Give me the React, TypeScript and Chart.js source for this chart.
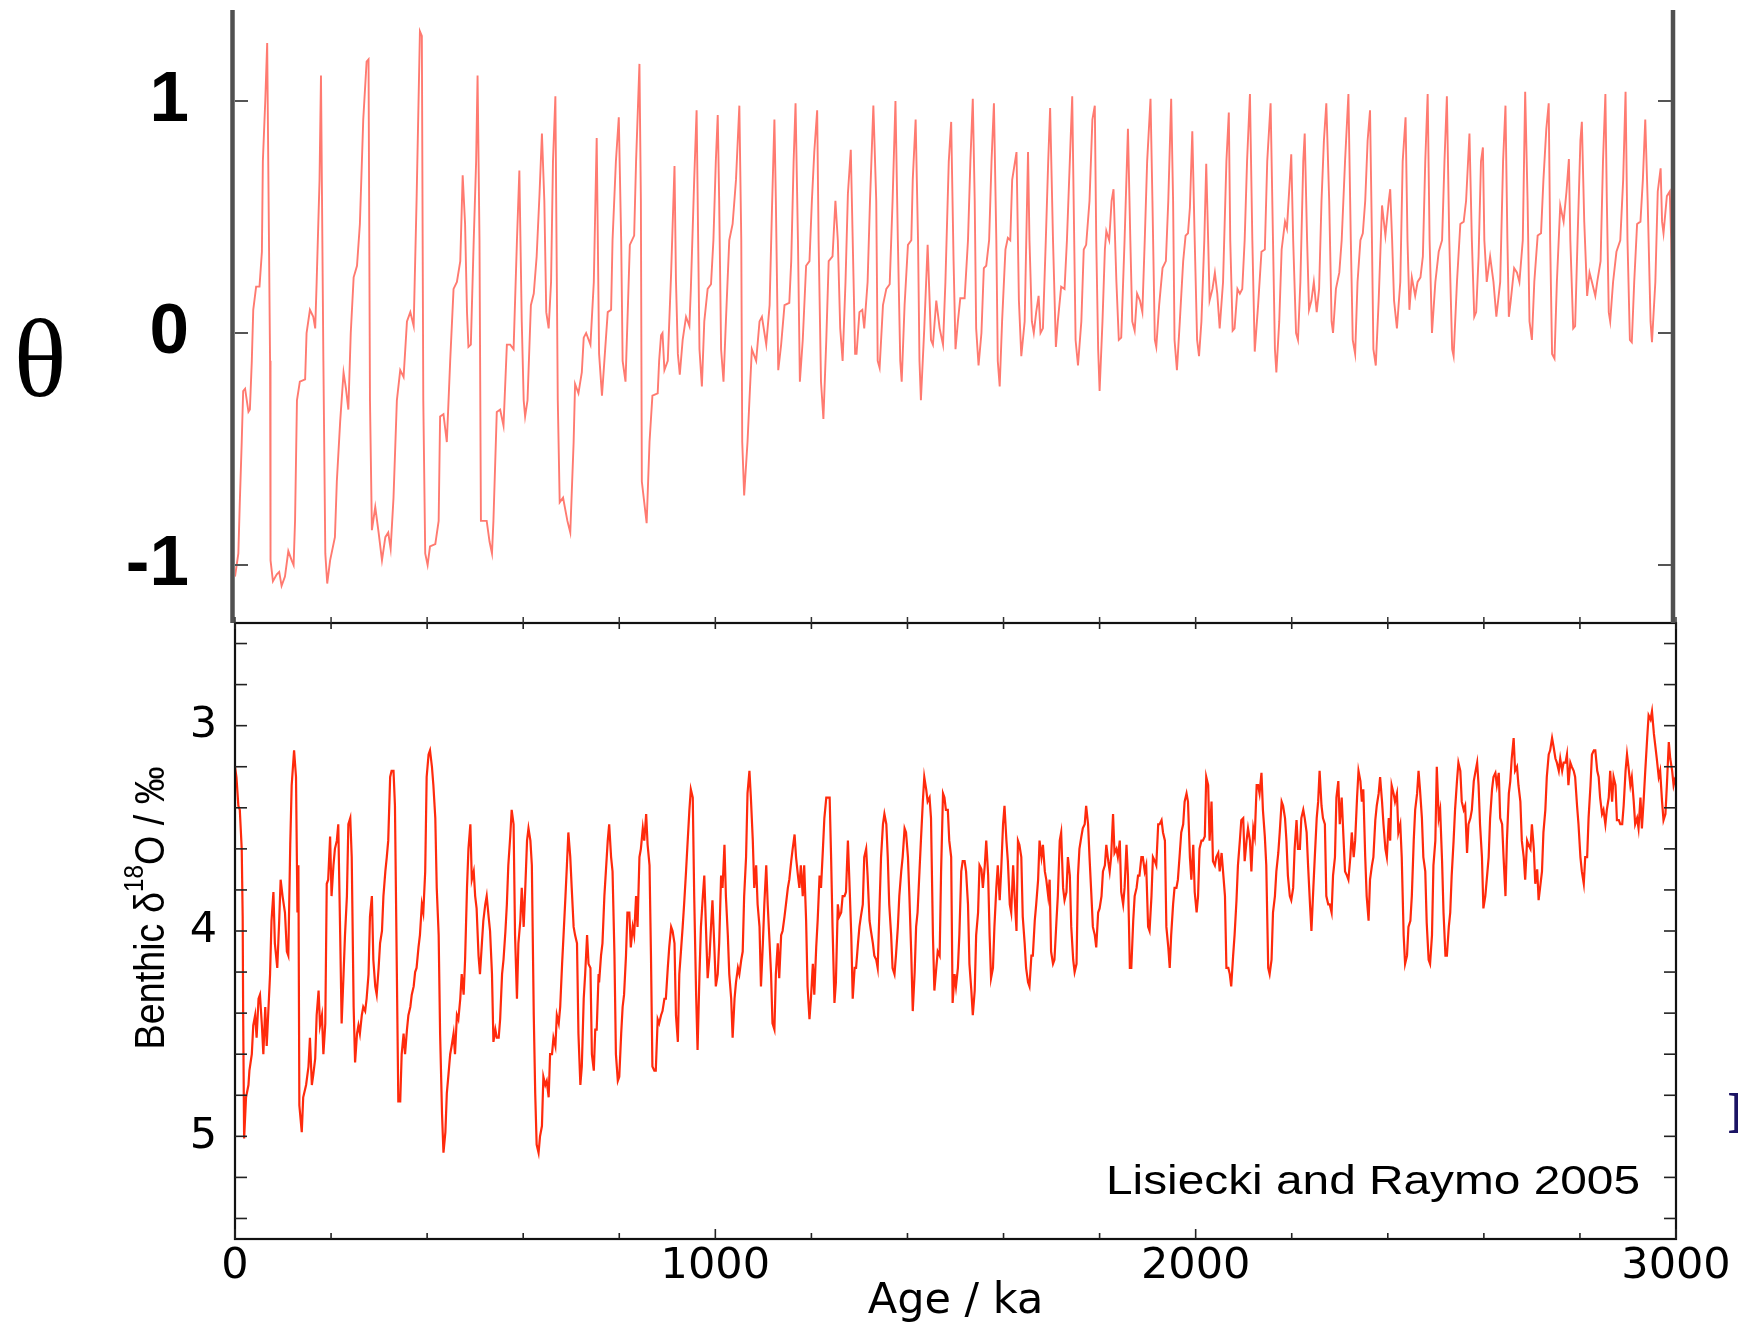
import React, { useEffect, useRef } from "react";
import { Chart, registerables } from "chart.js";

Chart.register(...registerables);

// ---------------- data ----------------
const AGE_TICKS = [0, 200, 400, 600, 800, 1000, 1200, 1400, 1600, 1800, 2000, 2200, 2400, 2600, 2800, 3000];
const AGE_LABELS = [0, 1000, 2000, 3000];
const THETA_TICKS = [-1, 0, 1];
const D18O_TICKS = [2.6, 2.8, 3.0, 3.2, 3.4, 3.6, 3.8, 4.0, 4.2, 4.4, 4.6, 4.8, 5.0, 5.2, 5.4];
const D18O_LABELS = [3, 4, 5];

const X_TITLE = "Age / ka";
const Y_TITLE_TOP = "θ";
const CREDIT = "Lisiecki and Raymo 2005";

// model output θ (age ka, value)
const THETA: [number, number][] = [
  [0,-1.05],[7,-0.95],[10,-0.73],[14,-0.47],[17,-0.25],[21,-0.24],[28,-0.34],[31,-0.33],[35,-0.12],[38,0.10],[44,0.20],[51,0.20],[56,0.35],[58,0.74],[63,1.00],[67,1.25],[73,-0.12],[74,-0.98],[79,-1.07],[87,-1.04],[92,-1.03],[97,-1.09],[104,-1.05],[111,-0.94],[118,-0.98],[122,-1.00],[125,-0.81],[129,-0.29],[135,-0.21],[146,-0.20],[149,0.00],[156,0.10],[163,0.07],[167,0.02],[170,0.22],[176,0.66],[179,1.11],[184,-0.12],[188,-0.95],[192,-1.08],[198,-0.98],[208,-0.88],[212,-0.64],[219,-0.38],[226,-0.17],[231,-0.24],[236,-0.33],[241,0.00],[247,0.24],[254,0.29],[260,0.47],[267,0.92],[274,1.17],[278,1.18],[281,-0.29],[285,-0.85],[292,-0.75],[299,-0.86],[306,-0.98],[313,-0.88],[319,-0.86],[324,-0.93],[330,-0.71],[337,-0.29],[344,-0.16],[351,-0.19],[358,0.05],[365,0.09],[372,0.03],[378,0.57],[385,1.30],[389,1.28],[392,-0.29],[396,-0.95],[401,-1.00],[406,-0.92],[417,-0.91],[424,-0.81],[427,-0.36],[434,-0.35],[441,-0.47],[448,-0.12],[455,0.19],[462,0.22],[469,0.31],[474,0.68],[479,0.47],[483,0.09],[486,-0.06],[491,-0.05],[497,0.40],[502,0.74],[505,1.11],[509,0.40],[512,-0.81],[524,-0.81],[530,-0.90],[535,-0.95],[538,-0.81],[545,-0.34],[552,-0.33],[559,-0.40],[566,-0.05],[573,-0.05],[580,-0.07],[587,0.40],[592,0.70],[597,0.05],[601,-0.29],[604,-0.36],[609,-0.29],[616,0.12],[622,0.17],[628,0.33],[634,0.60],[639,0.86],[644,0.57],[648,0.09],[653,0.02],[658,0.22],[662,0.74],[667,1.02],[672,-0.29],[676,-0.73],[683,-0.71],[692,-0.81],[698,-0.86],[705,-0.47],[708,-0.22],[715,-0.26],[722,-0.17],[726,-0.02],[731,0.00],[740,-0.05],[747,0.22],[753,0.84],[758,-0.09],[764,-0.27],[769,-0.12],[776,0.09],[783,0.10],[786,0.40],[793,0.74],[799,0.93],[804,0.40],[807,-0.12],[813,-0.21],[817,0.05],[822,0.38],[831,0.42],[835,0.74],[842,1.16],[845,0.57],[847,-0.64],[852,-0.73],[857,-0.82],[863,-0.47],[869,-0.27],[880,-0.26],[883,-0.12],[887,-0.01],[890,0.00],[894,-0.16],[901,-0.12],[908,0.26],[915,0.72],[918,0.23],[922,-0.09],[926,-0.18],[932,-0.03],[939,0.07],[946,0.03],[949,0.19],[956,0.66],[961,0.96],[967,-0.07],[972,-0.23],[977,0.05],[984,0.19],[991,0.21],[996,0.40],[1001,0.74],[1005,0.94],[1008,0.57],[1012,-0.07],[1017,-0.21],[1022,0.05],[1029,0.40],[1036,0.47],[1043,0.66],[1050,0.98],[1054,0.40],[1056,-0.47],[1060,-0.70],[1067,-0.47],[1071,-0.29],[1076,-0.07],[1085,-0.12],[1092,0.05],[1097,0.07],[1106,-0.05],[1113,0.12],[1118,0.54],[1123,0.92],[1126,0.57],[1131,-0.16],[1137,-0.05],[1144,0.12],[1154,0.13],[1158,0.31],[1163,0.74],[1167,0.99],[1172,0.40],[1176,-0.21],[1182,-0.03],[1189,0.29],[1196,0.31],[1201,0.57],[1206,0.78],[1212,0.96],[1215,0.40],[1220,-0.21],[1225,-0.37],[1231,-0.03],[1236,0.31],[1244,0.33],[1250,0.57],[1255,0.40],[1260,0.02],[1265,-0.12],[1271,0.22],[1276,0.60],[1282,0.79],[1286,0.40],[1291,-0.09],[1294,-0.09],[1300,0.09],[1306,0.10],[1310,0.02],[1317,0.22],[1322,0.57],[1329,0.98],[1335,0.57],[1338,-0.12],[1342,-0.15],[1349,0.12],[1356,0.19],[1363,0.21],[1369,0.57],[1375,1.00],[1380,0.40],[1385,-0.12],[1388,-0.21],[1394,0.12],[1401,0.38],[1408,0.40],[1411,0.66],[1417,0.92],[1422,0.40],[1425,-0.12],[1428,-0.29],[1435,0.02],[1442,0.38],[1449,-0.03],[1453,-0.05],[1460,0.14],[1467,0.02],[1474,-0.05],[1479,0.22],[1486,0.74],[1491,0.91],[1496,0.31],[1500,-0.07],[1505,0.05],[1510,0.15],[1519,0.15],[1526,0.40],[1531,0.74],[1536,1.01],[1540,0.57],[1543,0.02],[1548,-0.14],[1554,0.00],[1559,0.28],[1564,0.29],[1570,0.40],[1575,0.74],[1580,0.99],[1585,0.40],[1588,-0.12],[1592,-0.23],[1597,0.05],[1604,0.36],[1609,0.41],[1614,0.40],[1618,0.66],[1627,0.78],[1632,0.14],[1637,-0.10],[1644,0.05],[1651,0.78],[1654,0.40],[1659,0.05],[1663,0.00],[1668,0.09],[1673,0.16],[1677,0.00],[1682,0.02],[1688,0.40],[1693,0.74],[1697,0.97],[1703,0.40],[1709,-0.06],[1713,0.05],[1720,0.20],[1727,0.19],[1732,0.40],[1738,0.74],[1743,1.02],[1746,0.57],[1750,-0.03],[1755,-0.14],[1762,0.05],[1767,0.36],[1772,0.38],[1779,0.57],[1785,0.92],[1790,0.98],[1793,0.40],[1797,-0.07],[1800,-0.25],[1806,0.05],[1811,0.36],[1814,0.44],[1820,0.40],[1825,0.57],[1829,0.62],[1835,0.22],[1840,-0.03],[1845,-0.02],[1852,0.40],[1859,0.88],[1864,0.40],[1868,0.05],[1873,0.01],[1878,0.17],[1884,0.14],[1889,0.09],[1894,0.40],[1899,0.74],[1906,1.01],[1910,0.57],[1915,-0.03],[1918,-0.06],[1924,0.12],[1931,0.28],[1938,0.31],[1943,0.57],[1949,1.01],[1953,0.57],[1956,-0.03],[1961,-0.16],[1967,0.05],[1974,0.31],[1979,0.42],[1984,0.43],[1988,0.54],[1993,0.87],[1998,0.40],[2003,-0.03],[2007,-0.10],[2012,0.05],[2018,0.40],[2022,0.73],[2026,0.40],[2029,0.14],[2035,0.19],[2040,0.26],[2045,0.17],[2050,0.02],[2057,0.22],[2064,0.74],[2069,0.95],[2072,0.40],[2077,0.01],[2081,0.02],[2087,0.19],[2092,0.17],[2097,0.19],[2102,0.40],[2107,0.74],[2113,1.03],[2118,0.40],[2123,-0.08],[2130,0.12],[2137,0.35],[2144,0.36],[2149,0.74],[2156,0.99],[2161,0.40],[2165,-0.07],[2168,-0.17],[2174,0.05],[2179,0.36],[2186,0.48],[2190,0.45],[2196,0.66],[2199,0.77],[2203,0.40],[2209,0.00],[2213,-0.03],[2218,0.22],[2224,0.74],[2227,0.86],[2232,0.40],[2236,0.10],[2241,0.14],[2246,0.22],[2252,0.09],[2257,0.19],[2262,0.57],[2267,0.83],[2272,0.99],[2278,0.57],[2283,0.05],[2286,0.00],[2292,0.19],[2299,0.26],[2304,0.40],[2311,0.74],[2318,1.03],[2323,0.40],[2327,-0.03],[2332,-0.09],[2337,0.22],[2343,0.40],[2348,0.43],[2353,0.57],[2358,0.83],[2363,0.96],[2367,0.40],[2370,-0.07],[2375,-0.14],[2381,0.14],[2388,0.55],[2395,0.42],[2402,0.57],[2405,0.62],[2409,0.40],[2413,0.14],[2419,0.02],[2426,0.22],[2431,0.74],[2437,0.93],[2441,0.40],[2445,0.10],[2450,0.24],[2457,0.16],[2462,0.22],[2468,0.24],[2473,0.33],[2478,0.74],[2483,1.03],[2487,0.40],[2492,0.00],[2499,0.22],[2506,0.35],[2513,0.40],[2518,0.74],[2523,1.02],[2528,0.40],[2534,-0.07],[2537,-0.10],[2544,0.22],[2551,0.47],[2558,0.48],[2563,0.57],[2570,0.86],[2575,0.40],[2580,0.07],[2584,0.09],[2589,0.33],[2594,0.74],[2598,0.80],[2601,0.40],[2606,0.22],[2613,0.33],[2620,0.22],[2626,0.07],[2634,0.22],[2640,0.74],[2645,0.98],[2649,0.40],[2652,0.07],[2656,0.14],[2663,0.28],[2669,0.26],[2674,0.22],[2681,0.40],[2686,1.04],[2691,0.57],[2695,0.05],[2700,-0.03],[2705,0.22],[2712,0.42],[2719,0.43],[2724,0.66],[2730,0.88],[2735,0.99],[2738,0.40],[2742,-0.09],[2747,-0.11],[2752,0.22],[2759,0.55],[2766,0.48],[2772,0.61],[2777,0.75],[2780,0.40],[2786,0.02],[2790,0.03],[2795,0.40],[2801,0.83],[2804,0.91],[2809,0.48],[2815,0.16],[2820,0.26],[2825,0.22],[2832,0.16],[2836,0.22],[2843,0.31],[2848,0.74],[2853,1.03],[2856,0.57],[2860,0.09],[2863,0.05],[2869,0.22],[2876,0.35],[2884,0.40],[2890,0.66],[2895,1.04],[2899,0.40],[2904,-0.03],[2908,-0.04],[2913,0.22],[2919,0.47],[2926,0.48],[2931,0.66],[2936,0.92],[2941,0.57],[2947,0.05],[2950,-0.04],[2957,0.22],[2962,0.61],[2968,0.71],[2971,0.48],[2974,0.43],[2981,0.59],[2987,0.61],[2990,0.40],[2992,0.10]
];

// LR04 benthic δ18O stack (age ka, ‰)
const D18O: [number, number][] = [
  [0,3.20],[3,3.25],[7,3.39],[10,3.41],[14,3.60],[16,3.93],[17,4.41],[19,5.01],[23,4.81],[28,4.75],[30,4.68],[35,4.60],[38,4.46],[42,4.41],[45,4.52],[49,4.33],[52,4.31],[56,4.46],[59,4.60],[63,4.37],[66,4.56],[69,4.41],[73,4.21],[76,3.95],[80,3.81],[83,4.06],[88,4.18],[92,3.95],[95,3.75],[99,3.83],[104,3.91],[108,4.10],[111,4.12],[115,3.58],[118,3.29],[123,3.12],[127,3.25],[130,3.91],[132,3.68],[134,4.85],[139,4.98],[142,4.81],[148,4.75],[153,4.66],[156,4.52],[160,4.75],[163,4.70],[167,4.62],[170,4.41],[174,4.29],[177,4.46],[181,4.41],[184,4.60],[188,4.45],[191,3.77],[194,3.75],[198,3.54],[201,3.83],[205,3.68],[208,3.60],[212,3.56],[215,3.48],[219,4.02],[222,4.45],[226,4.21],[229,4.02],[233,3.83],[236,3.48],[240,3.45],[243,3.64],[247,4.37],[250,4.64],[254,4.50],[257,4.46],[260,4.50],[264,4.41],[267,4.37],[271,4.39],[274,4.33],[278,4.21],[281,3.93],[285,3.83],[288,4.14],[292,4.27],[295,4.31],[299,4.18],[302,4.06],[306,4.00],[309,3.83],[313,3.71],[316,3.64],[319,3.56],[323,3.25],[326,3.22],[330,3.22],[333,3.39],[337,4.21],[340,4.83],[344,4.83],[347,4.60],[351,4.50],[354,4.60],[358,4.48],[361,4.41],[365,4.37],[368,4.31],[372,4.27],[375,4.20],[378,4.18],[382,4.08],[385,4.02],[389,3.87],[392,3.91],[396,3.71],[399,3.25],[403,3.14],[406,3.12],[410,3.20],[413,3.29],[417,3.45],[420,3.79],[424,4.02],[427,4.50],[431,4.89],[434,5.08],[438,4.98],[441,4.79],[444,4.71],[448,4.60],[451,4.56],[455,4.50],[458,4.60],[462,4.41],[465,4.43],[469,4.33],[472,4.21],[476,4.31],[479,4.14],[483,3.79],[486,3.60],[490,3.48],[493,3.75],[497,3.71],[500,3.83],[503,3.89],[507,4.12],[510,4.21],[514,4.06],[517,3.95],[521,3.87],[524,3.83],[528,3.93],[531,4.00],[535,4.21],[538,4.54],[542,4.48],[545,4.52],[549,4.52],[552,4.43],[556,4.21],[559,4.14],[563,4.00],[566,3.87],[569,3.68],[573,3.54],[576,3.41],[580,3.48],[583,4.02],[587,4.33],[590,4.06],[594,3.95],[597,3.79],[601,3.98],[604,3.81],[608,3.56],[611,3.50],[615,3.56],[618,3.68],[622,4.41],[625,4.79],[628,5.04],[632,5.08],[635,5.00],[639,4.95],[642,4.71],[646,4.75],[649,4.73],[653,4.81],[656,4.60],[660,4.60],[663,4.52],[667,4.56],[670,4.41],[674,4.45],[677,4.37],[681,4.16],[684,4.02],[688,3.83],[691,3.68],[694,3.52],[698,3.64],[701,3.79],[705,3.98],[708,4.02],[712,4.06],[715,4.50],[719,4.75],[722,4.66],[726,4.33],[729,4.21],[733,4.02],[736,4.16],[740,4.18],[743,4.60],[747,4.68],[750,4.48],[753,4.48],[757,4.21],
  [758,4.25],[762,4.12],[765,4.06],[769,3.83],[776,3.56],[779,3.48],[783,3.64],[786,3.71],[790,4.12],[793,4.60],[797,4.73],[800,4.71],[804,4.50],[807,4.37],[810,4.31],[814,4.12],[817,3.91],[821,3.91],[824,4.08],[828,3.98],[831,4.02],[835,3.83],[838,3.98],[842,3.64],[845,3.60],[849,3.50],[852,3.56],[856,3.43],[859,3.58],[863,3.68],[866,4.12],[869,4.66],[873,4.68],[876,4.68],[880,4.43],[883,4.45],[887,4.41],[890,4.39],[894,4.33],[897,4.33],[901,4.18],[904,4.08],[908,3.98],[911,4.00],[915,4.06],[918,4.41],[922,4.54],[925,4.21],[929,4.08],[932,3.98],[935,3.87],[939,3.71],[942,3.58],[946,3.41],[949,3.31],[953,3.35],[956,3.83],[960,4.31],[963,4.58],[967,4.21],[970,3.98],[974,3.83],[977,3.73],[981,4.02],[984,4.23],[988,4.12],[991,3.98],[994,3.85],[998,4.08],[1001,4.27],[1005,4.21],[1008,4.06],[1012,3.73],[1015,3.79],[1019,3.58],[1022,3.83],[1026,4.02],[1029,4.21],[1033,4.33],[1036,4.52],[1040,4.33],[1043,4.25],[1047,4.18],[1050,4.21],[1054,4.14],[1057,4.10],[1060,3.83],[1064,3.64],[1067,3.33],[1071,3.22],[1074,3.35],[1078,3.56],[1081,3.79],[1085,3.68],[1088,3.87],[1092,3.98],[1095,4.27],[1099,4.06],[1102,3.87],[1106,3.68],[1109,3.87],[1113,4.06],[1116,4.21],[1119,4.45],[1123,4.48],[1126,4.21],[1130,4.06],[1133,4.23],[1137,4.02],[1140,4.00],[1144,3.93],[1147,3.87],[1151,3.79],[1154,3.75],[1158,3.66],[1161,3.60],[1165,3.53],[1168,3.64],[1172,3.73],[1175,3.79],[1178,3.68],[1182,3.83],[1185,3.68],[1189,3.95],[1192,4.27],[1196,4.43],[1199,4.33],[1203,4.16],[1206,4.31],[1210,4.08],[1213,3.95],[1217,3.73],[1220,3.79],[1224,3.60],[1227,3.45],[1231,3.35],[1234,3.35],[1238,3.35],[1241,3.64],[1244,3.98],[1248,4.35],[1251,4.25],[1255,3.87],[1258,3.93],[1262,3.91],[1265,3.83],[1269,3.83],[1272,3.81],[1276,3.56],[1279,3.75],[1283,4.02],[1286,4.33],[1290,4.18],[1293,4.18],[1297,4.06],[1300,3.98],[1303,3.93],[1307,3.87],[1310,3.64],[1314,3.60],[1317,3.73],[1321,3.95],[1324,4.00],[1328,4.06],[1331,4.12],[1335,4.14],[1338,4.18],[1342,3.87],[1345,3.64],[1349,3.48],[1352,3.43],[1356,3.48],[1359,3.64],[1362,3.87],[1366,4.02],[1369,4.18],[1373,4.21],[1376,4.12],[1380,3.98],[1383,3.83],[1387,3.71],[1390,3.64],[1394,3.50],[1397,3.52],[1401,3.64],[1404,3.83],[1408,4.12],[1411,4.39],[1415,4.20],[1418,3.98],[1421,3.91],[1425,3.71],[1428,3.56],[1432,3.37],[1435,3.25],[1439,3.31],[1442,3.37],[1446,3.35],[1449,3.45],[1453,4.02],[1456,4.29],[1460,4.18],[1463,4.10],[1467,4.12],[1470,3.71],[1474,3.33],[1477,3.35],[1480,3.41],[1484,3.41],[1487,3.56],[1491,3.64],[1494,4.35],[1498,4.21],[1501,4.27],[1505,4.18],[1508,4.02],[1512,3.71],[1515,3.66],[1519,3.66],[1522,3.71],[1526,3.87],[1529,4.16],
  [1533,4.29],[1536,4.41],[1540,4.29],[1543,4.02],[1547,3.91],[1550,3.68],[1554,3.70],[1557,3.79],[1561,3.68],[1564,3.56],[1568,3.73],[1571,4.02],[1574,4.23],[1578,4.18],[1581,3.98],[1585,3.79],[1588,3.68],[1592,3.85],[1595,3.71],[1599,3.48],[1602,3.39],[1606,3.56],[1609,3.66],[1613,3.87],[1616,3.91],[1620,3.68],[1623,3.83],[1627,4.00],[1630,3.56],[1633,3.58],[1637,3.64],[1640,3.93],[1644,4.06],[1647,4.18],[1651,4.25],[1654,4.27],[1658,4.12],[1661,4.12],[1665,3.95],[1668,3.87],[1672,3.75],[1675,3.56],[1679,3.64],[1682,3.58],[1686,3.71],[1689,3.75],[1693,3.83],[1696,3.75],[1699,4.10],[1703,4.16],[1706,4.14],[1710,3.96],[1713,3.83],[1717,3.56],[1720,3.52],[1724,3.79],[1727,3.85],[1731,3.81],[1734,3.64],[1738,3.73],[1741,3.98],[1745,4.14],[1748,4.20],[1752,4.16],[1755,3.73],[1758,3.60],[1762,3.54],[1765,3.50],[1769,3.48],[1772,3.39],[1776,3.48],[1779,3.64],[1783,3.83],[1786,3.98],[1790,4.02],[1793,4.08],[1797,3.91],[1800,3.89],[1804,3.83],[1807,3.71],[1811,3.68],[1814,3.58],[1818,3.66],[1821,3.71],[1824,3.64],[1828,3.43],[1831,3.62],[1835,3.60],[1838,3.64],[1842,3.56],[1845,3.81],[1849,3.87],[1852,3.79],[1856,3.58],[1859,3.73],[1863,4.18],[1866,4.18],[1870,3.95],[1873,3.83],[1877,3.79],[1880,3.73],[1883,3.73],[1887,3.64],[1890,3.64],[1894,3.71],[1897,3.68],[1901,3.98],[1904,4.00],[1908,3.83],[1911,3.64],[1915,3.66],[1918,3.68],[1922,3.48],[1925,3.48],[1929,3.46],[1932,3.52],[1936,3.56],[1939,3.98],[1943,4.08],[1946,4.18],[1949,4.02],[1953,3.87],[1956,3.79],[1960,3.79],[1963,3.75],[1967,3.62],[1970,3.52],[1974,3.48],[1977,3.37],[1981,3.33],[1984,3.37],[1988,3.64],[1991,3.75],[1995,3.58],[1998,3.81],[2002,3.91],[2005,3.83],[2008,3.60],[2012,3.56],[2015,3.56],[2019,3.54],[2022,3.25],[2026,3.29],[2029,3.56],[2033,3.37],[2036,3.66],[2040,3.68],[2043,3.64],[2047,3.62],[2050,3.71],[2054,3.62],[2057,3.71],[2061,3.83],[2064,4.18],[2068,4.18],[2071,4.21],[2074,4.27],[2078,4.12],[2081,4.02],[2085,3.85],[2088,3.68],[2092,3.56],[2095,3.46],[2099,3.45],[2102,3.66],[2106,3.56],[2109,3.50],[2113,3.56],[2116,3.71],[2120,3.50],[2123,3.54],[2127,3.29],[2130,3.29],[2133,3.33],[2137,3.23],[2140,3.41],[2144,3.54],[2147,3.68],[2151,4.18],[2154,4.21],[2158,4.14],[2161,3.91],[2165,3.83],[2168,3.71],[2172,3.62],[2175,3.52],[2179,3.37],[2182,3.39],[2186,3.45],[2189,3.56],[2192,3.73],[2196,3.83],[2199,3.85],[2203,3.79],[2206,3.60],[2210,3.46],[2213,3.60],[2217,3.60],[2220,3.45],[2224,3.41],[2227,3.45],[2231,3.52],[2234,3.68],[2238,3.87],[2241,4.00],[2245,3.79],[2248,3.64],[2252,3.45],[2255,3.37],[2258,3.22],[2262,3.39],[2265,3.45],[2269,3.48],[2272,3.83],[2276,3.87],[2279,3.87],[2283,3.91],[2286,3.73],[2290,3.64],[2293,3.35],[2297,3.27],[2300,3.48],
  [2304,3.35],[2308,3.56],[2311,3.71],[2315,3.73],[2318,3.75],[2322,3.64],[2325,3.52],[2329,3.64],[2332,3.56],[2336,3.35],[2339,3.22],[2343,3.27],[2346,3.37],[2349,3.31],[2353,3.64],[2356,3.83],[2360,3.95],[2363,3.75],[2367,3.68],[2370,3.64],[2374,3.46],[2377,3.39],[2381,3.33],[2384,3.25],[2388,3.37],[2391,3.48],[2395,3.60],[2398,3.64],[2402,3.45],[2405,3.56],[2408,3.29],[2412,3.33],[2415,3.37],[2419,3.33],[2422,3.52],[2426,3.48],[2429,3.64],[2433,4.02],[2436,4.16],[2440,4.12],[2443,3.98],[2447,3.95],[2450,3.83],[2454,3.56],[2457,3.41],[2461,3.33],[2464,3.22],[2467,3.31],[2471,3.45],[2474,3.64],[2478,3.71],[2481,3.96],[2485,4.14],[2488,4.16],[2492,4.02],[2495,3.68],[2499,3.56],[2502,3.20],[2506,3.45],[2509,3.41],[2513,3.66],[2516,3.91],[2520,4.12],[2523,4.12],[2527,3.98],[2530,3.91],[2533,3.73],[2537,3.56],[2540,3.41],[2544,3.27],[2547,3.18],[2551,3.22],[2554,3.37],[2558,3.41],[2561,3.39],[2565,3.62],[2568,3.48],[2572,3.45],[2575,3.41],[2579,3.27],[2582,3.23],[2586,3.18],[2589,3.29],[2592,3.48],[2596,3.64],[2599,3.89],[2603,3.83],[2606,3.75],[2610,3.64],[2613,3.45],[2617,3.31],[2620,3.25],[2624,3.23],[2627,3.29],[2631,3.23],[2634,3.45],[2638,3.48],[2641,3.64],[2645,3.83],[2648,3.56],[2652,3.33],[2655,3.27],[2658,3.16],[2662,3.06],[2665,3.22],[2669,3.20],[2672,3.29],[2676,3.37],[2679,3.56],[2683,3.64],[2686,3.75],[2690,3.56],[2693,3.58],[2697,3.60],[2700,3.48],[2704,3.60],[2707,3.77],[2711,3.70],[2714,3.85],[2717,3.79],[2721,3.71],[2724,3.52],[2728,3.41],[2731,3.25],[2735,3.14],[2738,3.12],[2742,3.06],[2745,3.10],[2749,3.16],[2752,3.18],[2756,3.22],[2759,3.16],[2763,3.22],[2766,3.18],[2770,3.18],[2773,3.14],[2776,3.29],[2780,3.18],[2783,3.20],[2787,3.22],[2790,3.25],[2794,3.39],[2797,3.48],[2801,3.64],[2804,3.71],[2808,3.77],[2811,3.64],[2815,3.64],[2818,3.45],[2822,3.29],[2825,3.14],[2829,3.12],[2832,3.12],[2836,3.22],[2839,3.25],[2842,3.35],[2846,3.43],[2849,3.41],[2853,3.48],[2856,3.41],[2860,3.35],[2863,3.22],[2867,3.37],[2870,3.25],[2874,3.29],[2877,3.46],[2881,3.46],[2884,3.48],[2888,3.48],[2891,3.39],[2895,3.22],[2898,3.14],[2901,3.20],[2905,3.29],[2908,3.25],[2912,3.37],[2915,3.48],[2919,3.45],[2922,3.50],[2926,3.35],[2929,3.50],[2933,3.35],[2936,3.22],[2940,3.06],[2943,2.95],[2947,2.97],[2950,2.93],[2954,3.04],[2957,3.10],[2960,3.16],[2964,3.25],[2967,3.22],[2971,3.37],[2974,3.46],[2978,3.43],[2981,3.29],[2985,3.08],[2988,3.16],[2992,3.22],[2995,3.29],[2999,3.25]
];

// ---------------- layout / style ----------------
const PAGE_W = 1738;
const PAGE_H = 1325;
const TOP_BOX = { left: 235, right: 1676, top: 11, bottom: 623 };
const BOT_BOX = { left: 235, right: 1676, top: 623, bottom: 1239 };
const THETA_COLOR = "rgb(255,122,112)";
const D18O_COLOR = "#ff2a0c";

function seg(ctx: any, x1: number, y1: number, x2: number, y2: number) {
  ctx.beginPath();
  ctx.moveTo(x1, y1);
  ctx.lineTo(x2, y2);
  ctx.stroke();
}

const topDecor = {
  id: "topDecor",
  afterDraw(chart: any) {
    const { ctx, chartArea: a } = chart;
    const xs = chart.scales.x;
    const ys = chart.scales.y;
    ctx.save();
    ctx.lineCap = "butt";
    ctx.strokeStyle = "#505050";
    ctx.lineWidth = 4.5;
    seg(ctx, a.left - 2.5, a.top - 1, a.left - 2.5, a.bottom);
    seg(ctx, a.right - 3, a.top - 1, a.right - 3, a.bottom);
    ctx.strokeStyle = "#555";
    ctx.lineWidth = 2;
    for (const t of ys.ticks) {
      const py = ys.getPixelForValue(t.value);
      seg(ctx, a.left, py, a.left + 13, py);
      seg(ctx, a.right - 5, py, a.right - 18, py);
    }
    ctx.strokeStyle = "#333";
    ctx.lineWidth = 1.5;
    for (const t of xs.ticks) {
      const px = xs.getPixelForValue(t.value);
      seg(ctx, px, a.bottom, px, a.bottom - 6);
    }
    ctx.fillStyle = "#000";
    ctx.font = '110px "Liberation Serif"';
    ctx.textAlign = "center";
    ctx.textBaseline = "alphabetic";
    ctx.fillText(Y_TITLE_TOP, 40, 396);
    ctx.restore();
  },
};

const bottomDecor = {
  id: "bottomDecor",
  afterDraw(chart: any) {
    const { ctx, chartArea: a } = chart;
    const xs = chart.scales.x;
    const ys = chart.scales.y;
    ctx.save();
    ctx.strokeStyle = "#111";
    ctx.lineWidth = 2.2;
    ctx.strokeRect(a.left, a.top, a.right - a.left, a.bottom - a.top);
    ctx.lineWidth = 1.6;
    ctx.strokeStyle = "#222";
    for (const t of ys.ticks) {
      const py = ys.getPixelForValue(t.value);
      seg(ctx, a.left, py, a.left + 12, py);
      seg(ctx, a.right, py, a.right - 12, py);
    }
    for (const t of xs.ticks) {
      const px = xs.getPixelForValue(t.value);
      const major = AGE_LABELS.includes(t.value);
      seg(ctx, px, a.top, px, a.top + 6);
      seg(ctx, px, a.bottom, px, a.bottom - (major ? 10 : 6));
    }

    // rotated y title: Benthic δ18O / ‰
    ctx.fillStyle = "#000";
    ctx.translate(164, 908);
    ctx.rotate(-Math.PI / 2);
    const fMain = '42px "Liberation Sans"';
    const fSup = '27px "Liberation Sans"';
    const parts = [
      { t: "Benthic δ", f: fMain, dy: 0 },
      { t: "18", f: fSup, dy: -21 },
      { t: "O / ‰", f: fMain, dy: 0 },
    ];
    let total = 0;
    const widths: number[] = [];
    for (const p of parts) {
      ctx.font = p.f;
      const w = ctx.measureText(p.t).width;
      widths.push(w);
      total += w;
    }
    ctx.scale(283 / total, 1);
    ctx.textAlign = "left";
    ctx.textBaseline = "alphabetic";
    let cx = -total / 2;
    parts.forEach((p, i) => {
      ctx.font = p.f;
      ctx.fillText(p.t, cx, p.dy);
      cx += widths[i];
    });
    ctx.restore();

    // credit text
    ctx.save();
    ctx.fillStyle = "#000";
    ctx.font = '40px "Liberation Sans"';
    ctx.textAlign = "left";
    ctx.textBaseline = "alphabetic";
    const cw = ctx.measureText(CREDIT).width;
    ctx.translate(1106, 1194);
    ctx.scale(534 / cw, 1);
    ctx.fillText(CREDIT, 0, 0);
    ctx.restore();

    // clipped navy glyph at the right edge
    ctx.save();
    ctx.fillStyle = "#1b1464";
    ctx.font = 'bold 62px "Liberation Serif"';
    ctx.textAlign = "left";
    ctx.fillText("I", 1727, 1133);
    ctx.restore();
  },
};

function topConfig(): any {
  return {
    type: "line",
    data: {
      datasets: [
        {
          data: THETA.map(([x, y]) => ({ x, y })),
          borderColor: THETA_COLOR,
          borderWidth: 1.9,
          pointRadius: 0,
          tension: 0,
          fill: false,
        },
      ],
    },
    options: {
      responsive: false,
      animation: false,
      events: [],
      layout: { padding: { left: 0, top: TOP_BOX.top, right: PAGE_W - TOP_BOX.right, bottom: 0 } },
      plugins: { legend: { display: false }, tooltip: { enabled: false }, title: { display: false } },
      scales: {
        x: {
          type: "linear",
          min: 0,
          max: 3000,
          grid: { display: false, drawTicks: false },
          border: { display: false },
          ticks: { display: false },
          afterBuildTicks: (s: any) => {
            s.ticks = AGE_TICKS.map((v) => ({ value: v }));
          },
          afterFit: (s: any) => {
            s.height = PAGE_H - TOP_BOX.bottom;
            s.paddingLeft = 0;
            s.paddingRight = 0;
          },
        },
        y: {
          type: "linear",
          min: -1.25,
          max: 1.388,
          grid: { display: false, drawTicks: false },
          border: { display: false },
          ticks: {
            autoSkip: false,
            color: "#000",
            padding: 46,
            font: { family: "Liberation Sans", size: 71, weight: "bold" },
            callback: (v: number) => String(v),
          },
          afterBuildTicks: (s: any) => {
            s.ticks = THETA_TICKS.map((v) => ({ value: v }));
          },
          afterFit: (s: any) => {
            s.width = TOP_BOX.left;
            s.paddingTop = 0;
            s.paddingBottom = 0;
          },
        },
      },
    },
    plugins: [topDecor],
  };
}

function bottomConfig(): any {
  return {
    type: "line",
    data: {
      datasets: [
        {
          data: D18O.map(([x, y]) => ({ x, y })),
          borderColor: D18O_COLOR,
          borderWidth: 2.2,
          pointRadius: 0,
          tension: 0,
          fill: false,
        },
      ],
    },
    options: {
      responsive: false,
      animation: false,
      events: [],
      layout: { padding: { left: 0, top: BOT_BOX.top, right: PAGE_W - BOT_BOX.right, bottom: 0 } },
      plugins: { legend: { display: false }, tooltip: { enabled: false }, title: { display: false } },
      scales: {
        x: {
          type: "linear",
          min: 0,
          max: 3000,
          grid: { display: false, drawTicks: false },
          border: { display: false },
          ticks: {
            autoSkip: false,
            maxRotation: 0,
            minRotation: 0,
            color: "#000",
            padding: 2,
            font: { family: "DejaVu Sans", size: 43 },
            callback: (v: number) => (AGE_LABELS.includes(v) ? String(v) : ""),
          },
          title: {
            display: true,
            text: X_TITLE,
            color: "#000",
            font: { family: "DejaVu Sans", size: 43, lineHeight: 1 },
            padding: { top: 0, bottom: 2 },
          },
          afterBuildTicks: (s: any) => {
            s.ticks = AGE_TICKS.map((v) => ({ value: v }));
          },
          afterFit: (s: any) => {
            s.height = PAGE_H - BOT_BOX.bottom;
            s.paddingLeft = 0;
            s.paddingRight = 0;
          },
        },
        y: {
          type: "linear",
          reverse: true,
          min: 2.5,
          max: 5.5,
          grid: { display: false, drawTicks: false },
          border: { display: false },
          ticks: {
            autoSkip: false,
            color: "#000",
            padding: 18,
            font: { family: "DejaVu Sans", size: 43 },
            callback: (v: number) => {
              const hit = D18O_LABELS.find((l) => Math.abs(l - v) < 1e-6);
              return hit === undefined ? "" : String(hit);
            },
          },
          afterBuildTicks: (s: any) => {
            s.ticks = D18O_TICKS.map((v) => ({ value: v }));
          },
          afterFit: (s: any) => {
            s.width = BOT_BOX.left;
            s.paddingTop = 0;
            s.paddingBottom = 0;
          },
        },
      },
    },
    plugins: [bottomDecor],
  };
}

export default function App() {
  const topRef = useRef<HTMLCanvasElement>(null);
  const botRef = useRef<HTMLCanvasElement>(null);

  useEffect(() => {
    const bottom = new Chart(botRef.current as HTMLCanvasElement, bottomConfig());
    const top = new Chart(topRef.current as HTMLCanvasElement, topConfig());
    return () => {
      top.destroy();
      bottom.destroy();
    };
  }, []);

  return (
    <div
      style={{
        position: "absolute",
        left: 0,
        top: 0,
        width: PAGE_W,
        height: PAGE_H,
        background: "#fff",
        overflow: "hidden",
      }}
    >
      <canvas ref={botRef} width={PAGE_W} height={PAGE_H} style={{ position: "absolute", left: 0, top: 0 }} />
      <canvas ref={topRef} width={PAGE_W} height={PAGE_H} style={{ position: "absolute", left: 0, top: 0 }} />
    </div>
  );
}
